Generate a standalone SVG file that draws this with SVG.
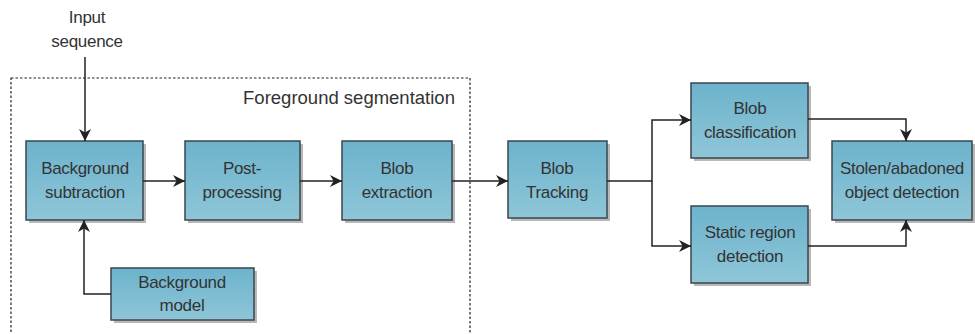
<svg xmlns="http://www.w3.org/2000/svg" width="975" height="334" viewBox="0 0 975 334">
<defs>
<linearGradient id="g" x1="0" y1="0" x2="0" y2="1">
<stop offset="0" stop-color="#6cb3cc"/>
<stop offset="1" stop-color="#8fc6d8"/>
</linearGradient>
<marker id="ah" viewBox="0 0 10 10" refX="10" refY="5" markerWidth="12" markerHeight="12" markerUnits="userSpaceOnUse" orient="auto">
<path d="M0,0 L10,5 L0,10 L3,5 Z" fill="#222"/>
</marker>
</defs>
<style>
.box{fill:url(#g);stroke:#3a464c;stroke-width:1.5}
.sh{fill:#9a9a9a;opacity:0.7}
.t{font-family:"Liberation Sans",Arial,sans-serif;font-size:17px;fill:#333;text-anchor:middle;letter-spacing:-0.3px}
.c{fill:none;stroke:#222;stroke-width:1.5}
</style>
<rect width="975" height="334" fill="#fff"/>
<rect x="11" y="78" width="459" height="262" fill="none" stroke="#222" stroke-width="1.2" stroke-dasharray="2.5,2"/>
<text class="t" x="349" y="104" style="font-size:18.5px;letter-spacing:0px">Foreground segmentation</text>
<text class="t" x="87" y="23">Input</text>
<text class="t" x="87" y="47">sequence</text>

<g id="bgsub"><rect class="sh" x="29" y="144" width="117" height="79"/><rect class="box" x="26" y="141" width="117" height="79"/><text class="t" x="85" y="174">Background</text><text class="t" x="85" y="198">subtraction</text></g>
<g id="post"><rect class="sh" x="188" y="144" width="115" height="79"/><rect class="box" x="185" y="141" width="115" height="79"/><text class="t" x="242" y="174">Post-</text><text class="t" x="242" y="198">processing</text></g>
<g id="blobext"><rect class="sh" x="345" y="144" width="110" height="79"/><rect class="box" x="342" y="141" width="110" height="79"/><text class="t" x="397" y="174">Blob</text><text class="t" x="397" y="198">extraction</text></g>
<g id="bgmodel"><rect class="sh" x="114" y="271" width="143" height="52"/><rect class="box" x="111" y="268" width="143" height="52"/><text class="t" x="182" y="288">Background</text><text class="t" x="182" y="311">model</text></g>
<g id="tracking"><rect class="sh" x="511" y="144" width="99" height="77"/><rect class="box" x="508" y="141" width="99" height="77"/><text class="t" x="557" y="174">Blob</text><text class="t" x="557" y="198">Tracking</text></g>
<g id="classif"><rect class="sh" x="694" y="86" width="117" height="75"/><rect class="box" x="691" y="83" width="117" height="75"/><text class="t" x="750" y="114">Blob</text><text class="t" x="750" y="138">classification</text></g>
<g id="static"><rect class="sh" x="694" y="209" width="117" height="77"/><rect class="box" x="691" y="206" width="117" height="77"/><text class="t" x="750" y="238">Static region</text><text class="t" x="750" y="262">detection</text></g>
<g id="stolen"><rect class="sh" x="835" y="144" width="140" height="79"/><rect class="box" x="832" y="141" width="140" height="79"/><text class="t" x="902" y="174">Stolen/abadoned</text><text class="t" x="902" y="198">object detection</text></g>

<g id="connectors">
<path class="c" d="M85,57 V141" marker-end="url(#ah)"/>
<path class="c" d="M111,294 H84 V220" marker-end="url(#ah)"/>
<path class="c" d="M143,181 H185" marker-end="url(#ah)"/>
<path class="c" d="M300,181 H342" marker-end="url(#ah)"/>
<path class="c" d="M452,181 H508" marker-end="url(#ah)"/>
<path class="c" d="M607,181 H652 V120 H691" marker-end="url(#ah)"/>
<path class="c" d="M652,181 V246 H691" marker-end="url(#ah)"/>
<path class="c" d="M808,119 H906 V141" marker-end="url(#ah)"/>
<path class="c" d="M808,246 H906 V220" marker-end="url(#ah)"/>
</g>
</svg>
